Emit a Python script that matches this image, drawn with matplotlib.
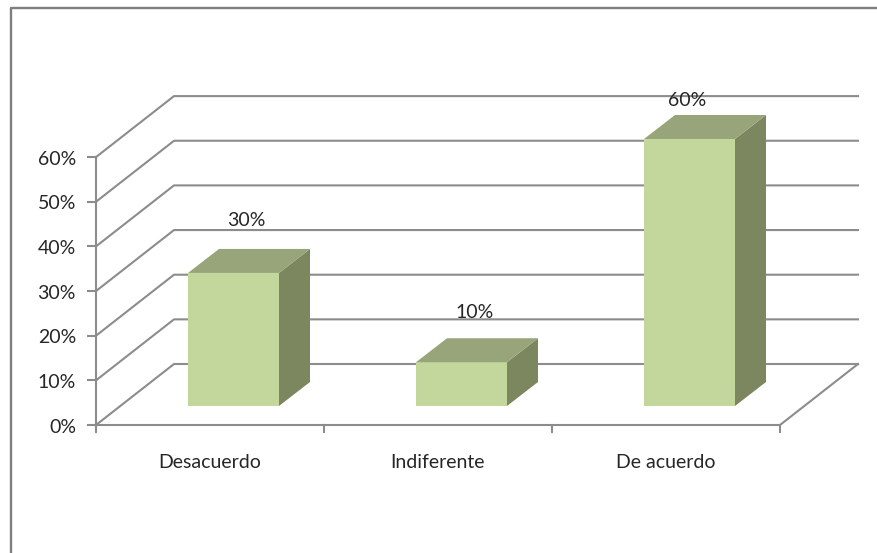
import matplotlib
matplotlib.use("Agg")
import matplotlib.pyplot as plt
from matplotlib.patches import Polygon

plt.rcParams['font.family'] = ['Lato', 'DejaVu Sans']

categorias = ['Desacuerdo', 'Indiferente', 'De acuerdo']
valores = [30, 10, 60]
etiquetas = ['30%', '10%', '60%']
ticks_y = [0, 10, 20, 30, 40, 50, 60]
ticks_y_txt = ['0%', '10%', '20%', '30%', '40%', '50%', '60%']

# tamano de una categoria y de un 1% en pixeles
px_cat = 228.0
px_pct = 4.465
origen_x, origen_y = 96, 425

# profundidad del grafico 3D, en unidades de datos
prof_x = 78 / px_cat
prof_y = 61 / px_pct
# caja de la barra dentro de la profundidad
ini_x = 23.5 / px_cat
ini_y = 19 / px_pct
barra_dx = 31 / px_cat
barra_dy = 24 / px_pct
ancho = 91 / px_cat

# posicion de las etiquetas respecto a la tapa de cada barra (en pixeles)
etq_dx = [-2.5, -2, -18]
etq_dy = [28, 26, 14]

gris = '#8c8c8c'
texto = '#262626'
lw_rejilla = 1.5
fs = 14

fig = plt.figure(figsize=(8.77, 5.53), dpi=100)
ax = fig.add_axes([0, 0, 1, 1])
ax.set_xlim(-origen_x / px_cat, (877 - origen_x) / px_cat)
ax.set_ylim(-(553 - origen_y) / px_pct, origen_y / px_pct)
ax.axis('off')

# marco exterior
ax.plot([(11 - origen_x) / px_cat, (11 - origen_x) / px_cat, (877 - origen_x) / px_cat],
        [-(553 - origen_y) / px_pct, (origen_y - 8) / px_pct, (origen_y - 8) / px_pct],
        color='#7f7f7f', lw=1.7, solid_capstyle='butt')

n = len(categorias)

# lineas de division: pared lateral y pared del fondo
for v, txt in zip(ticks_y, ticks_y_txt):
    ax.plot([0, prof_x, n + prof_x], [v, v + prof_y, v + prof_y], color=gris, lw=lw_rejilla, zorder=1)
    ax.plot([-8 / px_cat, 0], [v, v], color=gris, lw=lw_rejilla, zorder=1)
    ax.text(-20 / px_cat, v - 0.5, txt, ha='right', va='center', fontsize=fs, color=texto)

# ejes
ax.plot([0, 0], [0, ticks_y[-1]], color=gris, lw=lw_rejilla, zorder=1)
ax.plot([0, n, n + prof_x], [0, 0, prof_y], color=gris, lw=lw_rejilla, zorder=1)
for i in range(n + 1):
    ax.plot([i, i], [0, -7 / px_pct], color=gris, lw=lw_rejilla, zorder=1)

# barras
for i, (cat, val, etq) in enumerate(zip(categorias, valores, etiquetas)):
    x0 = i + 0.5 + ini_x - ancho / 2
    x1 = x0 + ancho
    y0 = ini_y
    y1 = ini_y + val - 0.2
    frente = [(x0, y0), (x1, y0), (x1, y1), (x0, y1)]
    lado = [(x1, y0), (x1 + barra_dx, y0 + barra_dy), (x1 + barra_dx, y1 + barra_dy), (x1, y1)]
    tapa = [(x0, y1), (x1, y1), (x1 + barra_dx, y1 + barra_dy), (x0 + barra_dx, y1 + barra_dy)]
    ax.add_patch(Polygon(frente, closed=True, fc='#c3d69b', ec='none', zorder=3))
    ax.add_patch(Polygon(lado, closed=True, fc='#7c8760', ec='none', zorder=3))
    ax.add_patch(Polygon(tapa, closed=True, fc='#98a57a', ec='none', zorder=3))
    ax.text(i + 0.5 + ini_x + barra_dx / 2 + etq_dx[i] / px_cat, y1 + barra_dy + etq_dy[i] / px_pct, etq,
            ha='center', va='center', fontsize=fs, color=texto, zorder=4)
    ax.text(i + 0.5, -8.3, cat, ha='center', va='center', fontsize=fs, color=texto)

fig.savefig('out.png', dpi=100, facecolor='white')
